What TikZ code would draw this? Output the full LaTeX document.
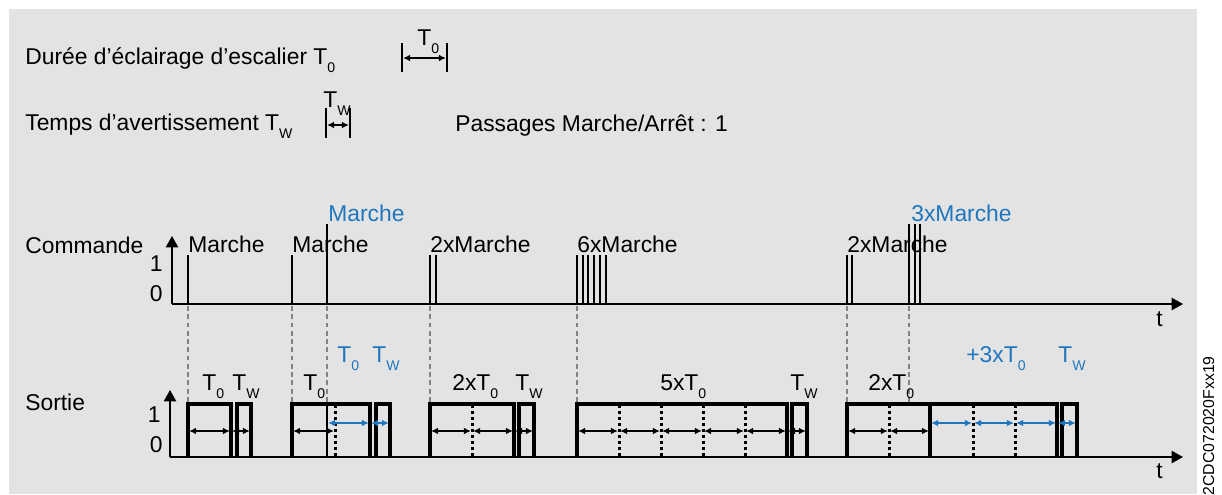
\documentclass[tikz,border=0pt]{standalone}
\usepackage{fontspec}
\setmainfont{Liberation Sans}
\usepackage{tikz}
\usetikzlibrary{arrows.meta}
\usepackage{xcolor}
\definecolor{panelgrey}{RGB}{227,227,227}
\definecolor{hintblue}{RGB}{30,118,190}
\definecolor{guidegrey}{RGB}{130,130,130}
\newcommand{\tsub}[1]{T\raisebox{-4.8pt}{\fontsize{8}{9}\selectfont #1}}

\begin{document}
\begin{tikzpicture}[x=0.02cm, y=-0.02cm,
  every node/.style={inner sep=0pt, font=\fontsize{13}{15}\selectfont},
  txt/.style={anchor=base west},
  lvl/.style={anchor=base east},
  hint/.style={text=hintblue},
  axis/.style={line width=1pt, -{Triangle[length=6.5pt, width=7pt]}},
  cmd/.style={line width=0.9pt},
  tick/.style={line width=0.9pt},
  guide/.style={guidegrey, line width=0.8pt, dash pattern=on 2.8pt off 1.9pt},
  pulse/.style={line width=1.8pt},
  split/.style={line width=1.7pt, dash pattern=on 1.9pt off 1.5pt},
  span/.style={line width=0.8pt, shorten <=0.6pt, shorten >=0.6pt,
               {Latex[length=4pt, width=3.8pt]}-{Latex[length=4pt, width=3.8pt]}},
  bspan/.style={span, hintblue}
]

%--- Panel ---
\useasboundingbox (0,0) rectangle (1222,494);
\fill[panelgrey] (9,9) rectangle (1197,494);
\node[rotate=90, anchor=base east, font=\fontsize{9}{10}\selectfont] (ref) at (1214,356) {2CDC072020Fxx19};

%--- Legend ---
\node[txt] (durT) at (25,64) {Durée d’éclairage d’escalier \tsub{0}};
\coordinate (t0a) at (402,58);
\coordinate (t0b) at (447,58);
\draw[tick] (402,43) -- (402,72);
\draw[tick] (447,43) -- (447,72);
\draw[span] (t0a) -- (t0b);
\node[txt] (t0lbl) at (417,45) {\tsub{0}};

\node[txt] (durW) at (25,130) {Temps d’avertissement \tsub{W}};
\coordinate (twa) at (326,125);
\coordinate (twb) at (350,125);
\draw[tick] (326,108) -- (326,138);
\draw[tick] (350,108) -- (350,138);
\draw[span] (twa) -- (twb);
\node[txt] (twlbl) at (323,107) {\tsub{W}};

\node[txt] (pass) at (455,131) {Passages Marche/Arrêt : 1};

%--- Commande ---
\coordinate (c0) at (172,304);
\draw[axis] (c0) -- (172,236);
\draw[axis] (c0) -- (1183,304);
\node[txt] (cmdlbl) at (25,253) {Commande};
\node[lvl] (c1) at (163,271) {1};
\node[lvl] (cz) at (163,301) {0};
\node[txt] (ct) at (1156,326) {t};

\foreach \px/\py in {188/255, 292/255, 327/224, 430/255, 436/255,
                     577/255, 583/255, 588/255, 594/255, 600/255, 606/255,
                     847/255, 852/255, 909/224, 915/224, 920/224}
  \draw[cmd] (\px,304) -- (\px,\py);

\node[txt] (m1) at (188,252) {Marche};
\node[txt] (m2) at (292,252) {Marche};
\node[txt, hint] (m3) at (328,221) {Marche};
\node[txt] (m4) at (430,252) {2xMarche};
\node[txt] (m5) at (577,252) {6xMarche};
\node[txt] (m6) at (847,252) {2xMarche};
\node[txt, hint] (m7) at (911,221) {3xMarche};

%--- Guide lines ---
\foreach \px in {188,292,327,430,577,847,909}
  \draw[guide] (\px,306) -- (\px,404);

%--- Sortie ---
\coordinate (s0) at (170,457);
\draw[axis] (s0) -- (170,390);
\draw[axis] (s0) -- (1183,457);
\node[txt] (outlbl) at (25,410) {Sortie};
\node[lvl] (s1) at (161,422) {1};
\node[lvl] (sz) at (163,452) {0};
\node[txt] (st) at (1156,478) {t};

\foreach \a/\b in {188/231, 237/251, 292/370, 376/390, 430/514, 519/534,
                   577/787, 792/807, 847/930, 930/1057, 1062/1077}
  \draw[pulse] (\a,457) -- (\a,404) -- (\b,404) -- (\b,457);
\draw[cmd] (327,404) -- (327,457);
\foreach \px in {335,472,619,661,703,745,889,973,1015}
  \draw[split] (\px,405) -- (\px,457);

\foreach \a/\b in {188/231, 231/251, 292/335, 430/472, 472/514, 514/534,
                   577/619, 619/661, 661/703, 703/745, 745/787, 787/807,
                   847/889, 889/930}
  \draw[span] (\a,431) -- (\b,431);
\foreach \a/\b in {327/370, 370/390, 930/973, 973/1015, 1015/1057, 1057/1077}
  \draw[bspan] (\a,423) -- (\b,423);

\node[txt] (o1) at (202,390) {\tsub{0}};
\node[txt] (w1) at (232,390) {\tsub{W}};
\node[txt] (o2) at (303,390) {\tsub{0}};
\node[txt, hint] (o3) at (337,362) {\tsub{0}};
\node[txt, hint] (w3) at (372,362) {\tsub{W}};
\node[txt] (o4) at (452,390) {2x\tsub{0}};
\node[txt] (w4) at (515,390) {\tsub{W}};
\node[txt] (o5) at (660,390) {5x\tsub{0}};
\node[txt] (w5) at (790,390) {\tsub{W}};
\node[txt] (o6) at (868,390) {2x\tsub{0}};
\node[txt, hint] (o7) at (966,362) {+3x\tsub{0}};
\node[txt, hint] (w7) at (1058,362) {\tsub{W}};

\end{tikzpicture}
\end{document}
